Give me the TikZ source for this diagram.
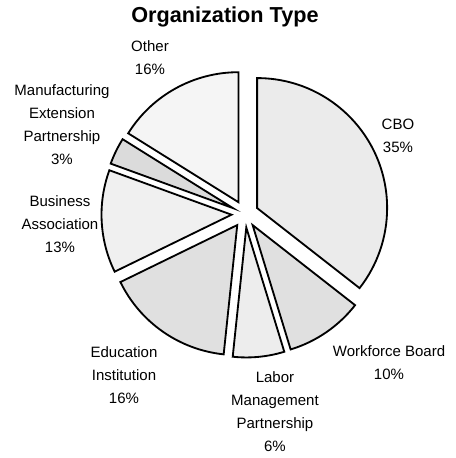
\documentclass[tikz,border=0pt]{standalone}
\usepackage{fontspec}
\setmainfont{Liberation Sans}

% one exploded slice: start angle, end angle, fill
\newcommand{\pieslice}[3]{%
  \pgfmathsetmacro\midangle{(#1+#2)/2}
  \filldraw[slice, fill=#3] (\midangle:13.5) -- ++(#1:130) arc (#1:#2:130) -- cycle;}

\begin{document}
\begin{tikzpicture}[x=0.6pt,y=0.6pt,
    slice/.style ={draw=black, line width=1.1pt, line join=miter},
    pielabel/.style ={align=center, font=\fontsize{9}{13.8}\selectfont, inner sep=0pt}]
   \useasboundingbox (-245,-244) rectangle (211,214);
   \pieslice{90}{-38}{black!8}
   \pieslice{-38}{-73}{black!12}
   \pieslice{-73}{-96}{black!7}
   \pieslice{-96}{-154}{black!12}
   \pieslice{-154}{-200}{black!6}
   \pieslice{-200}{-212}{black!14}
   \pieslice{-212}{-270}{black!4}
   \node[font=\fontsize{13}{15}\selectfont\bfseries] (title) at (-20,197) {Organization Type};
   \node[pielabel] (cbo)   at (153,78)     {CBO\\35\%};
   \node[pielabel] (wb)    at (144,-149)   {Workforce Board\\10\%};
   \node[pielabel] (labor) at (30,-197.5)  {Labor\\Management\\Partnership\\6\%};
   \node[pielabel] (edu)   at (-121,-161)  {Education\\Institution\\16\%};
   \node[pielabel] (bus)   at (-185,-10)   {Business\\Association\\13\%};
   \node[pielabel] (mep)   at (-183,89)    {Manufacturing\\Extension\\Partnership\\3\%};
   \node[pielabel] (other) at (-95,156.5)  {Other\\16\%};
 \end{tikzpicture}
\end{document}
